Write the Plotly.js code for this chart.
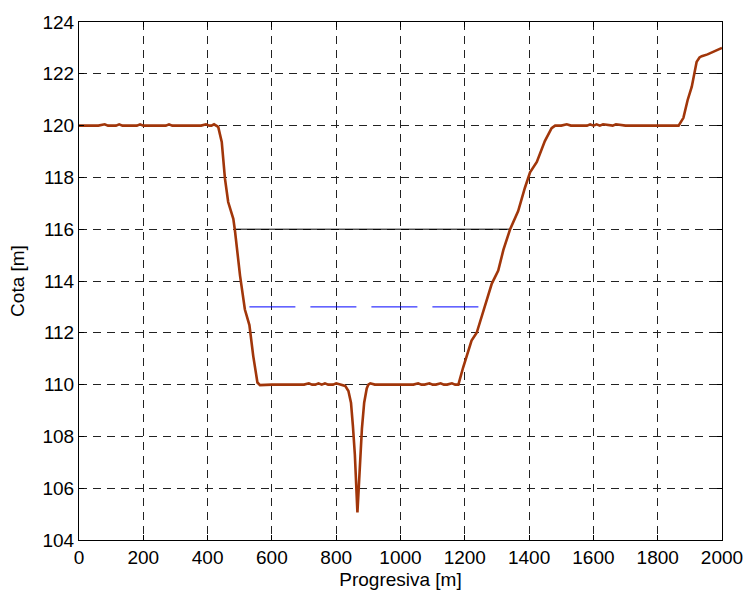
<!DOCTYPE html>
<html>
<head>
<meta charset="utf-8">
<script src="https://cdn.plot.ly/plotly-3.0.1.min.js"></script>
<style>html,body{margin:0;padding:0;background:#fff;}#chart{width:746px;height:590px;}</style>
</head>
<body>
<div id="chart"></div>
<script>
// Terrain profile
const progresiva = [0,40,60,80,90,100,115,125,135,160,180,190,200,210,230,270,280,290,310,330,340,360,380,395,405,412,420,433,444,454,464,480,485,501,516,530,542,555,563,600,700,715,725,735,745,755,765,775,790,800,815,828,838,846,852,858,866,873,880,887,895,900,906,920,940,980,1040,1055,1065,1075,1090,1100,1110,1125,1135,1145,1160,1170,1180,1195,1221,1237,1263,1284,1304,1320,1341,1366,1387,1403,1424,1449,1470,1481,1500,1517,1530,1560,1580,1590,1600,1610,1620,1630,1650,1660,1670,1700,1800,1851,1865,1880,1893,1906,1915,1921,1930,1937,1955,1972,1990,2000];
const cota = [120,120,120,120.05,120,120,120,120.05,120,120,120,120.05,120,120,120,120,120.05,120,120,120,120,120,120,120.05,120,120,120.05,119.95,119.37,117.95,117.05,116.4,115.95,114.2,112.9,112.3,111.1,110.08,109.98,110,110,110.05,110,110,110.05,110,110.05,110,110,110.05,110.0,109.95,109.75,109.3,108.4,107.3,105.06,107.0,108.3,109.3,109.85,110,110.05,110,110,110,110,110.05,110,110,110.05,110,110,110.05,110,110,110.05,110,110,110.67,111.7,112.0,113.1,113.9,114.4,115.2,116.0,116.7,117.6,118.2,118.6,119.4,119.9,120.0,120,120.05,120,120,120,120.05,120,120.05,120,120.05,120,120,120.05,120,120,120,120,120.3,120.98,121.5,122,122.46,122.63,122.68,122.75,122.85,122.95,123.0];

// Reference levels
const nivelMaxX = [482,1341];
const nivelMaxY = [116,116];
const nivelNormalX = [530,1245];
const nivelNormalY = [113,113];

const xTicks = [0,200,400,600,800,1000,1200,1400,1600,1800,2000];
const yTicks = [104,106,108,110,112,114,116,118,120,122,124];

const traces = [
  {x: nivelMaxX, y: nivelMaxY, mode: 'lines', line: {color: '#000000', width: 1}, hoverinfo: 'skip'},
  {x: nivelNormalX, y: nivelNormalY, mode: 'lines', line: {color: '#0000ff', width: 1, dash: '46px,15px'}, hoverinfo: 'skip'},
  {x: progresiva, y: cota, mode: 'lines', line: {color: '#a1360a', width: 2.6}}
];

const tickFont = {family: '"Liberation Sans", Arial, sans-serif', size: 19, color: '#000'};

const layout = {
  width: 746, height: 590,
  margin: {l: 79, r: 24, t: 22, b: 50},
  paper_bgcolor: '#fff', plot_bgcolor: '#fff',
  showlegend: false,
  font: tickFont,
  xaxis: {
    range: [0, 2000], tickvals: xTicks, ticktext: xTicks.map(String),
    showgrid: true, gridcolor: '#222', griddash: '8px,6px', gridwidth: 1,
    zeroline: false, showline: true, linecolor: '#000', linewidth: 1, mirror: 'ticks',
    ticks: 'inside', ticklen: 5, tickcolor: '#000', tickfont: tickFont,
    title: {text: 'Progresiva [m]', font: tickFont, standoff: 9}
  },
  yaxis: {
    range: [104, 124], tickvals: yTicks, ticktext: yTicks.map(String),
    showgrid: true, gridcolor: '#222', griddash: '8px,6px', gridwidth: 1,
    zeroline: false, showline: true, linecolor: '#000', linewidth: 1, mirror: 'ticks',
    ticks: 'inside', ticklen: 5, tickcolor: '#000', tickfont: tickFont,
    title: {text: 'Cota [m]', font: tickFont, standoff: 12}
  }
};

Plotly.newPlot('chart', traces, layout, {displayModeBar: false, staticPlot: true});
</script>
</body>
</html>
